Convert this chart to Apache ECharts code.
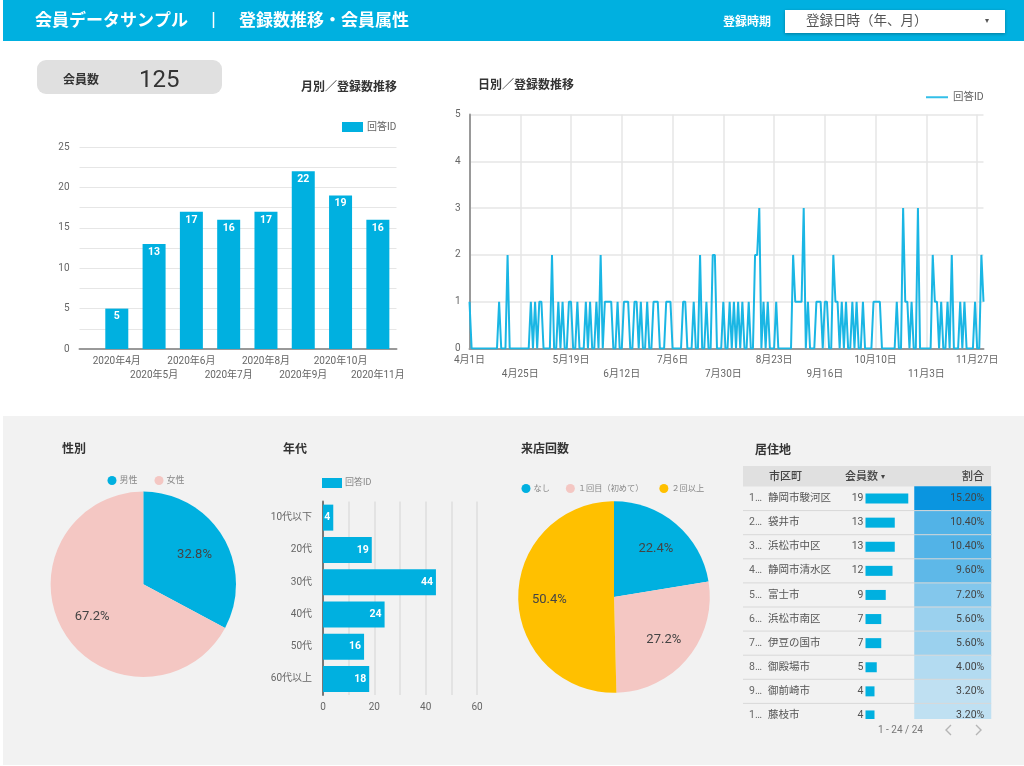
<!DOCTYPE html>
<html>
<head>
<meta charset="utf-8">
<style>
  html, body { margin: 0; padding: 0; background: #fff; }
  #main { width: 1024px; height: 766px; }
</style>
<script src="https://cdn.jsdelivr.net/npm/echarts@6/dist/echarts.min.js"></script>
</head>
<body>
<div id="main"></div>
<script>
// monthly registrations
var monthLabels = ['2020年4月', '2020年5月', '2020年6月', '2020年7月', '2020年8月', '2020年9月', '2020年10月', '2020年11月'];
var monthValues = [5, 13, 17, 16, 17, 22, 19, 16];

// daily registrations, one row per month (Apr - Nov)
var dayApr = [1,0,0,0,0,0,0,0,0,0, 0,0,0,0,1,0,0,0,2,0, 0,0,0,0,0,0,0,0,0,1];
var dayMay = [0,1,0,1,1,0,0,0,0,2, 0,0,1,0,1,0,0,1,1,0, 0,1,0,0,0,1,0,1,0,0, 1];
var dayJun = [0,2,0,1,1,1,1,0,0,1, 0,0,1,1,1,0,0,1,1,0, 1,0,0,1,0,0,1,1,1,0];
var dayJul = [0,0,1,1,1,0,0,0,0,0, 1,1,0,0,0,1,0,0,2,0, 0,1,0,0,2,2,0,0,0,1, 0];
var dayAug = [0,1,0,1,0,1,0,1,0,0, 1,0,0,2,2,3,0,1,0,1, 0,0,0,1,0,0,0,0,0,0, 0];
var daySep = [2,1,1,1,1,3,0,1,0,0, 0,1,1,1,0,1,1,0,0,2, 1,1,0,1,0,1,0,0,1,0];
var dayOct = [1,0,0,1,0,0,0,0,1,1, 1,1,0,0,0,0,0,0,0,1, 0,0,3,1,1,0,1,0,0,3, 0];
var dayNov = [0,0,0,0,0,2,1,1,0,1, 0,0,1,0,2,0,0,0,1,0, 1,0,0,0,0,1,0,0,2,1];
var dayMonths = [4, 5, 6, 7, 8, 9, 10, 11];

// gender
var genderNames = ['男性', '女性'];
var genderValues = [41, 84];

// age
var ageLabels = ['10代以下', '20代', '30代', '40代', '50代', '60代以上'];
var ageValues = [4, 19, 44, 24, 16, 18];

// visits
var visitNames = ['なし', '１回目（初めて）', '２回以上'];
var visitValues = [28, 34, 63];

// residence table
var cityNames = ['静岡市駿河区', '袋井市', '浜松市中区', '静岡市清水区', '富士市', '浜松市南区', '伊豆の国市', '御殿場市', '御前崎市', '藤枝市'];
var cityCounts = [19, 13, 13, 12, 9, 7, 7, 5, 4, 4];
var cityShares = [15.2, 10.4, 10.4, 9.6, 7.2, 5.6, 5.6, 4.0, 3.2, 3.2];

var BLUE = '#00b0e0';
var PINK = '#f4c7c3';
var YELLOW = '#ffc000';
var FONT = "Roboto, 'Noto Sans CJK JP', sans-serif";
var GRID_LINE = '#e6e6e6';
var AXIS_LINE = '#999';
var LABEL = '#666';

// build the day axis from the monthly rows
var dayRows = [dayApr, dayMay, dayJun, dayJul, dayAug, daySep, dayOct, dayNov];
var dayLabels = [];
var dayValues = [];
dayRows.forEach(function (row, m) {
    row.forEach(function (v, d) {
        dayLabels.push(dayMonths[m] + '月' + (d + 1) + '日');
        dayValues.push(v);
    });
});
function every24(i) { return i % 24 === 0; }

// percent labels sit further out than ECharts' 'inside' position
function pushOut(cx, cy, k) {
    return function (p) {
        var r = p.labelRect;
        return {
            dx: (r.x + r.width / 2 - cx) * k,
            dy: (r.y + r.height / 2 - cy) * k + 1.5
        };
    };
}

function text(x, y, str, size, color, weight, align) {
    return {
        type: 'text', x: x, y: y, z: 20,
        style: {
            text: str, fontSize: size, fontFamily: FONT, fill: color,
            fontWeight: weight || 'normal', align: align || 'left', verticalAlign: 'middle'
        }
    };
}
function rect(x, y, w, h, color, r, z) {
    return {
        type: 'rect', z: z === undefined ? -10 : z,
        shape: { x: x, y: y, width: w, height: h, r: r || 0 },
        style: { fill: color }
    };
}
function line(x1, y1, x2, y2, color, w) {
    return {
        type: 'line', z: 20,
        shape: { x1: x1, y1: y1, x2: x2, y2: y2 },
        style: { stroke: color, lineWidth: w || 1 }
    };
}

var dropdown = rect(785, 10, 220, 23, '#fff', 0, 5);
dropdown.style.shadowBlur = 3;
dropdown.style.shadowColor = 'rgba(0,0,0,0.3)';
dropdown.style.shadowOffsetY = 1;

var chrome = [
    rect(3, 0, 1021, 41, BLUE),
    rect(3, 416, 1021, 349, '#f2f2f2'),
    dropdown,
    rect(37, 60, 185, 34, '#e0e0e0', 9),
    rect(743, 466, 248, 20.5, '#e0e0e0'),
    rect(743, 719, 250, 12, '#f2f2f2', 0, 15),
    text(35, 21.5, '会員データサンプル', 17, '#fff', 'bold'),
    line(213.5, 12, 213.5, 28, '#fff', 1.5),
    text(239, 21.5, '登録数推移・会員属性', 17, '#fff', 'bold'),
    text(723, 23, '登録時期', 12, '#fff', 'bold'),
    text(806, 21.5, '登録日時（年、月）', 13.5, '#555'),
    text(985, 21, '▾', 8, '#555'),
    text(63, 81, '会員数', 12, '#333', 'bold'),
    text(139, 81, '125', 24, '#333'),
    text(769, 477, '市区町', 11, '#444', '500'),
    text(845, 477, '会員数', 11, '#444', '500'),
    text(881, 477, '▾', 8, '#444'),
    text(984, 477, '割合', 11, '#444', '500', 'right'),
    text(878, 730, '1 - 24 / 24', 10, '#777'),
    {
        type: 'polyline', z: 20,
        shape: { points: [[951, 725], [946, 730], [951, 735]] },
        style: { stroke: '#b5b5b5', lineWidth: 1.4, fill: null }
    },
    {
        type: 'polyline', z: 20,
        shape: { points: [[976, 725], [981, 730], [976, 735]] },
        style: { stroke: '#b5b5b5', lineWidth: 1.4, fill: null }
    }
];
// table row separators
cityNames.forEach(function (c, i) {
    if (i > 0) chrome.push(line(743, 486.5 + 24.1 * i, 991, 486.5 + 24.1 * i, '#d8d8d8', 1));
});

var titleStyle = { fontSize: 12, fontWeight: 'bold', color: '#333', fontFamily: FONT };
function sectionTitle(str, left, top) {
    return { text: str, left: left, top: top, padding: 0, textStyle: titleStyle };
}

var pieLabel = {
    position: 'inside', formatter: '{d}%', fontSize: 13, color: '#444', fontFamily: FONT
};

var myChart = echarts.init(document.getElementById('main'));

myChart.setOption({
    animation: false,
    textStyle: { fontFamily: FONT },
    graphic: { elements: chrome },
    title: [
        sectionTitle('月別／登録数推移', 301, 82),
        sectionTitle('日別／登録数推移', 478, 80),
        sectionTitle('性別', 62, 444),
        sectionTitle('年代', 283, 444),
        sectionTitle('来店回数', 521, 444),
        sectionTitle('居住地', 755, 445)
    ],
    legend: [
        {
            data: [{ name: '回答ID', icon: 'rect', itemStyle: { color: BLUE } }],
            left: 342, top: 122, padding: 0, itemWidth: 21, itemHeight: 10, itemGap: 5,
            selectedMode: false, textStyle: { fontSize: 10, color: LABEL, padding: [0, 0, 0, -1] }
        },
        {
            data: [{ name: '回答ID', icon: 'rect', itemStyle: { color: '#33bfe8' } }],
            left: 926, top: 92, padding: 0, itemWidth: 22, itemHeight: 2, itemGap: 5,
            selectedMode: false, textStyle: { fontSize: 10.5, color: LABEL }
        },
        {
            data: [{ name: '回答ID', icon: 'rect', itemStyle: { color: BLUE } }],
            left: 322, top: 478, padding: 0, itemWidth: 20, itemHeight: 10, itemGap: 5,
            selectedMode: false, textStyle: { fontSize: 9, color: '#888', padding: [0, 0, 0, -2] }
        },
        {
            data: genderNames, icon: 'circle',
            left: 107.5, top: 476, padding: 0, itemWidth: 9, itemHeight: 9, itemGap: 17,
            selectedMode: false, textStyle: { fontSize: 9, color: '#888', padding: [0, 0, 0, -2] }
        },
        {
            data: visitNames, icon: 'circle',
            left: 521.5, top: 484, padding: 0, itemWidth: 9, itemHeight: 9, itemGap: 16,
            selectedMode: false, textStyle: { fontSize: 8.2, color: '#888', padding: [0, 0, 0, -2] }
        }
    ],
    grid: [
        { left: 79.5, top: 147, width: 317, height: 202 },
        { left: 469.5, top: 114.5, width: 514, height: 234 },
        { left: 323, top: 501.5, width: 154, height: 193.5 },
        { left: 865.5, top: 486.5, width: 48.4, height: 241 },
        { left: 914.5, top: 486.5, width: 76.5, height: 241 }
    ],
    xAxis: [
        {
            // half a slot is left empty before the first bar
            gridIndex: 0, type: 'value', min: -1, max: 7.5, interval: 1,
            axisLine: { show: true, onZero: false, lineStyle: { color: AXIS_LINE, width: 2 } },
            axisTick: { show: false }, splitLine: { show: false },
            axisLabel: {
                fontSize: 10, color: LABEL, margin: 5, lineHeight: 14, showMinLabel: false,
                formatter: function (v) {
                    if (v < 0 || v > 7) return '';
                    return (v % 2 ? '\n' : '') + monthLabels[v];
                }
            }
        },
        {
            gridIndex: 1, type: 'category', data: dayLabels, boundaryGap: false,
            axisLine: { lineStyle: { color: AXIS_LINE, width: 2 } },
            axisTick: { show: false },
            splitLine: { show: true, interval: every24, lineStyle: { color: GRID_LINE, width: 1.5 } },
            axisLabel: {
                fontSize: 10, color: LABEL, margin: 5, lineHeight: 14, interval: every24,
                formatter: function (v, i) {
                    return (i % 48 === 24 ? '\n' : '') + v;
                }
            }
        },
        {
            gridIndex: 2, type: 'value', min: 0, max: 60, interval: 20,
            minorTick: { show: false, splitNumber: 2 },
            minorSplitLine: { show: true, lineStyle: { color: '#dedede', width: 1.5 } },
            axisLine: { show: false }, axisTick: { show: false },
            splitLine: { show: true, lineStyle: { color: '#dedede', width: 1.5 } },
            axisLabel: { fontSize: 10, color: LABEL, margin: 7 }
        },
        {
            gridIndex: 3, type: 'value', min: 0, max: 21.5, show: false
        },
        {
            gridIndex: 4, type: 'category', data: ['割合'], show: false
        }
    ],
    yAxis: [
        {
            gridIndex: 0, type: 'value', min: 0, max: 25, interval: 5,
            minorTick: { show: false, splitNumber: 2 },
            minorSplitLine: { show: true, lineStyle: { color: GRID_LINE, width: 1 } },
            axisLine: { show: false }, axisTick: { show: false },
            splitLine: { lineStyle: { color: GRID_LINE, width: 1 } },
            axisLabel: { fontSize: 10, color: LABEL, margin: 10, padding: [2, 0, 0, 0] }
        },
        {
            gridIndex: 1, type: 'value', min: 0, max: 5, interval: 1,
            axisLine: { show: true, lineStyle: { color: AXIS_LINE, width: 2 } },
            axisTick: { show: false },
            splitLine: { lineStyle: { color: GRID_LINE, width: 1.5 } },
            axisLabel: { fontSize: 10, color: LABEL, margin: 9, padding: [2, 0, 0, 0] }
        },
        {
            gridIndex: 2, type: 'category', data: ageLabels, inverse: true,
            axisLine: { show: true, lineStyle: { color: '#777', width: 2 } },
            axisTick: { show: false },
            axisLabel: { fontSize: 10, color: LABEL, margin: 11, padding: [2, 0, 0, 0] }
        },
        {
            gridIndex: 3, type: 'category', data: cityNames, inverse: true,
            axisLine: { show: false }, axisTick: { show: false },
            axisLabel: {
                align: 'left', margin: 116.5,
                formatter: function (v, i) {
                    // the narrow index column cuts numbers off after one digit
                    return '{i|' + String(i + 1).charAt(0) + '…}{n|' + v + '}';
                },
                rich: {
                    i: { width: 19, fontSize: 10.5, color: '#666' },
                    n: { fontSize: 10.5, color: '#555' }
                }
            }
        },
        {
            gridIndex: 4, type: 'category', data: cityNames, inverse: true, show: false
        }
    ],
    visualMap: {
        show: false, seriesIndex: 3, dimension: 2, min: 3.2, max: 15.2,
        inRange: { color: ['#bfe0f2', '#0a95e0'] }
    },
    series: [
        {
            name: '回答ID', type: 'bar', xAxisIndex: 0, yAxisIndex: 0, barWidth: 23,
            data: monthValues.map(function (v, i) { return [i, v]; }),
            itemStyle: { color: BLUE },
            label: {
                show: true, position: 'insideTop', distance: 3, color: '#fff',
                fontSize: 10.5, fontWeight: 'bold',
                formatter: function (p) { return p.value[1]; }
            }
        },
        {
            name: '回答ID', type: 'line', xAxisIndex: 1, yAxisIndex: 1, data: dayValues,
            symbol: 'none', lineStyle: { color: '#1ab6e4', width: 2 }, itemStyle: { color: '#33bfe8' }
        },
        {
            name: '回答ID', type: 'bar', xAxisIndex: 2, yAxisIndex: 2, barWidth: 26, data: ageValues,
            itemStyle: { color: BLUE },
            label: {
                show: true, position: 'insideRight', distance: 3, color: '#fff',
                fontSize: 10.5, fontWeight: 'bold'
            }
        },
        {
            type: 'heatmap', xAxisIndex: 4, yAxisIndex: 4,
            data: cityShares.map(function (v, i) { return [0, i, v]; }),
            label: {
                show: true, position: 'insideRight', distance: 7, fontSize: 10.5, color: '#444',
                formatter: function (p) { return p.value[2].toFixed(2) + '%'; }
            }
        },
        {
            type: 'bar', xAxisIndex: 3, yAxisIndex: 3, barWidth: 10, data: cityCounts,
            itemStyle: { color: BLUE },
            label: { show: true, position: 'left', distance: 2, fontSize: 10.5, color: '#555' }
        },
        {
            type: 'pie', center: [143.3, 584.3], radius: [0, 92.7], startAngle: 90, percentPrecision: 1,
            data: genderNames.map(function (n, i) { return { name: n, value: genderValues[i] }; }),
            color: [BLUE, PINK],
            label: pieLabel, labelLine: { show: false },
            labelLayout: pushOut(143.3, 584.3, 0.21)
        },
        {
            type: 'pie', center: [614, 597], radius: [0, 95.8], startAngle: 90, percentPrecision: 1,
            data: visitNames.map(function (n, i) { return { name: n, value: visitValues[i] }; }),
            color: [BLUE, PINK, YELLOW],
            label: pieLabel, labelLine: { show: false },
            labelLayout: pushOut(614, 597, 0.27)
        }
    ]
});
</script>
</body>
</html>
